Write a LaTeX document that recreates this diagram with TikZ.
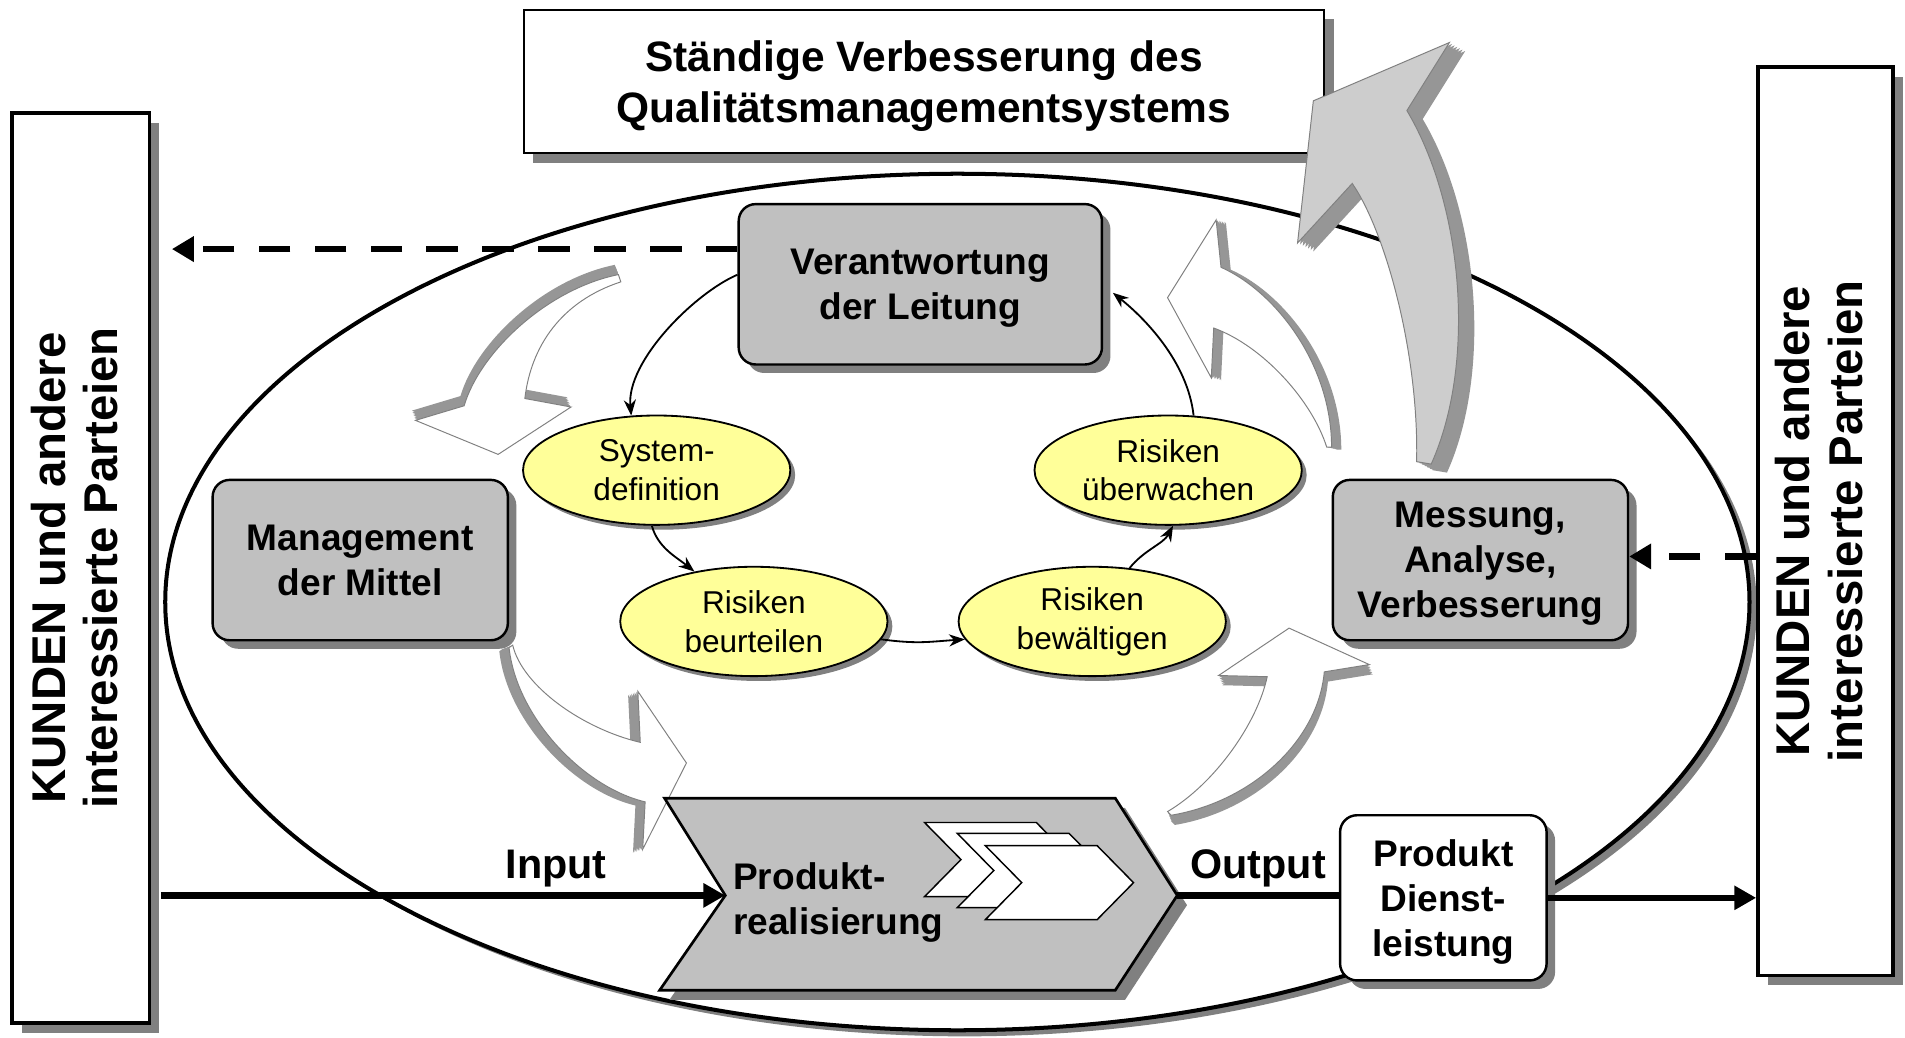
\documentclass[tikz,border=0pt]{standalone}
\usepackage{fontspec}
\setmainfont{Liberation Sans}
\usetikzlibrary{shapes.geometric, arrows.meta, positioning, calc, shadows}

\definecolor{boxgray}{RGB}{192,192,192}
\definecolor{shadegray}{RGB}{128,128,128}
\definecolor{edgegray}{RGB}{150,150,150}
\definecolor{liftgray}{RGB}{205,205,205}
\definecolor{riskyellow}{RGB}{255,255,153}

% curved block arrows (outline of the front face)
\newcommand{\arrowA}{(509,226) .. controls (450,238) and (395,290) .. (382,334) -- (342,346) -- (410,374) -- (470,335) -- (432,328) .. controls (437,285) and (462,248) .. (511,232) -- cycle}
\newcommand{\arrowB}{(422,531) .. controls (430,565) and (480,600) .. (527,611) -- (525,569) -- (565,628) -- (529,699) -- (531,660) .. controls (480,648) and (425,590) .. (419,533) -- cycle}
\newcommand{\arrowC}{(961,668) .. controls (1000,645) and (1035,595) .. (1043,557) -- (1003,556) -- (1061,517) -- (1127,547) -- (1090,553) .. controls (1085,610) and (1030,660) .. (964,671) -- cycle}
\newcommand{\arrowD}{(1096,368) .. controls (1096,300) and (1050,240) .. (1005,220) -- (1001,181) -- (961,245) -- (997,311) -- (999,270) .. controls (1040,285) and (1080,330) .. (1092,368) -- cycle}
\newcommand{\arrowE}{(1166,380) .. controls (1168,290) and (1140,190) .. (1113,151) -- (1068,200) -- (1081,83) -- (1193,35) -- (1158,91) .. controls (1205,170) and (1215,300) .. (1178,382) -- cycle}

% 3d edge: copies of the face, stepped towards (#2,#3)
\newcommand{\extrude}[3]{\foreach \k in {1,...,6}{\fill[arrowedge, shift={(\k*#2/6,\k*#3/6)}] #1;}}

\newcommand{\minichevron}[2]{\filldraw[fill=white, draw=black, line width=1.2pt] (#1,#2) -- ++(92,0) -- ++(30,30.5) -- ++(-30,30.5) -- ++(-92,0) -- ++(30,-30.5) -- cycle;}

\tikzset{
  boxshadow/.style={drop shadow={shadow xshift=8pt, shadow yshift=-8pt, fill=shadegray, opacity=1}},
  prozessfeld/.style={ellipse, draw, line width=3.3pt, fill=white, minimum width=1304pt, minimum height=705pt,
    drop shadow={shadow xshift=6pt, shadow yshift=-5pt, fill=shadegray, opacity=1}},
  titlebox/.style={draw, line width=1.5pt, fill=white, minimum width=659pt, minimum height=118pt,
    align=center, text depth=-8pt, boxshadow, font=\fontsize{35}{42}\selectfont\bfseries},
  kundenbox/.style={draw, line width=3pt, fill=white, minimum width=113pt, minimum height=749pt,
    inner sep=0pt, boxshadow, font=\fontsize{39}{43}\selectfont\bfseries},
  mgmtbox/.style={draw, line width=2pt, rounded corners=14pt, fill=boxgray, minimum width=243pt,
    minimum height=132pt, align=center, text depth=0pt,
    drop shadow={shadow xshift=7pt, shadow yshift=-7pt, fill=shadegray, opacity=1},
    font=\fontsize{30.5}{37}\selectfont\bfseries},
  risk/.style={ellipse, draw, line width=1.5pt, fill=riskyellow, minimum width=220pt, minimum height=90pt,
    inner sep=0pt, align=center, drop shadow={shadow xshift=4pt, shadow yshift=-4pt, fill=shadegray, opacity=1},
    font=\fontsize{26}{32}\selectfont},
  chevron/.style={draw, line width=2.2pt, fill=boxgray, boxshadow},
  arrowface/.style={fill=white, draw=shadegray, line width=0.8pt},
  arrowedge/.style={fill=edgegray},
  cycarrow/.style={-{Stealth[length=13pt,width=10pt]}, line width=1.5pt},
  mainflow/.style={line width=5.5pt, -{Triangle[length=18pt,width=19pt]}},
  dashflow/.style={line width=5.5pt, dash pattern=on 26pt off 20pt, -{Triangle[length=18pt,width=20pt]}},
  flowlabel/.style={above, inner sep=4pt, font=\fontsize{34}{40}\selectfont\bfseries}
}

\begin{document}
\begin{tikzpicture}[x=1pt, y=-1pt]
\useasboundingbox (0,0) rectangle (1568,854);

\node[prozessfeld] (feld) at (788,495.5) {};

\node[titlebox] (kvp) at (760.5,67) {Ständige Verbesserung des\\Qualitätsmanagementsystems};

\node[kundenbox] (kundenL) at (66.5,467.5)
  {\rotatebox{90}{\begin{tabular}{@{}c@{}}KUNDEN und andere\\interessierte Parteien\end{tabular}}};
\node[kundenbox, minimum width=111pt, minimum height=748pt] (kundenR) at (1502.5,429)
  {\rotatebox{90}{\begin{tabular}{@{}c@{}}KUNDEN und andere\\interessierte Parteien\end{tabular}}};

% block arrows of the cycle
\extrude{\arrowA}{-3}{-8}
\filldraw[arrowface] \arrowA;
\extrude{\arrowB}{-8}{3}
\filldraw[arrowface] \arrowB;
\extrude{\arrowC}{3}{8}
\filldraw[arrowface] \arrowC;
\extrude{\arrowD}{8}{2}
\filldraw[arrowface] \arrowD;
\extrude{\arrowE}{13}{7}
\filldraw[arrowface, fill=liftgray] \arrowE;

% process boxes
\node[mgmtbox, minimum width=299pt] (leitung) at (757.5,234) {Verantwortung\\der Leitung};
\node[mgmtbox] (mittel) at (296.5,461) {Management\\der Mittel};
\node[mgmtbox] (messung) at (1218.5,461) {Messung,\\Analyse,\\Verbesserung};
\node[mgmtbox, fill=white, minimum width=170pt, minimum height=136pt] (produkt) at (1188,739)
  {Produkt\\Dienst-\\leistung};

% risk cycle
\node[risk] (sysdef) at (540.5,387) {System-\\definition};
\node[risk] (beurt) at (620.5,511.5) {Risiken\\beurteilen};
\node[risk] (bewael) at (899,511.5) {Risiken\\bewältigen};
\node[risk] (ueberw) at (961.5,387) {Risiken\\überwachen};

% product realisation
\draw[chevron] (547,657) -- (918,657) -- (969,737) -- (918,815) -- (543,815) -- (597,737) -- cycle;
\coordinate (notch) at (597,737);
\coordinate (tip) at (969,737);
\node[anchor=west, align=left, font=\fontsize{30.5}{37}\selectfont\bfseries] (realisierung) at (600,743)
  {Produkt-\\realisierung};
\minichevron{761}{677}
\minichevron{788}{686}
\minichevron{811}{696}

\draw[cycarrow] (leitung.177) .. controls +(-35,15) and +(-4,-45) .. (sysdef.115);
\draw[cycarrow] (sysdef.265) .. controls +(5,18) and +(-15,-12) .. (beurt.140);
\draw[cycarrow] (beurt.352) .. controls +(30,4) and +(-30,2) .. (bewael.188);
\draw[cycarrow] (bewael.55) .. controls +(12,-15) and +(-8,15) .. (ueberw.275);
\draw[cycarrow] (ueberw.65) .. controls +(-5,-45) and +(25,20) .. ([xshift=8pt,yshift=-7pt]leitung.east);

\draw[dashflow, shorten >=17pt] ([yshift=29pt]leitung.west) -- ([yshift=29pt]leitung.west -| kundenL.east);
\draw[dashflow] ([yshift=-29pt]kundenR.west) -- ([yshift=-29pt]kundenR.west -| messung.east);

\draw[mainflow] ([xshift=8pt]kundenL.east |- notch) -- node[flowlabel, pos=0.7] {Input} (notch);
\draw[mainflow, -] (tip) -- node[flowlabel] {Output} (tip -| produkt.west);
\draw[mainflow] (produkt.east) -- (produkt.east -| kundenR.west);
\end{tikzpicture}
\end{document}
